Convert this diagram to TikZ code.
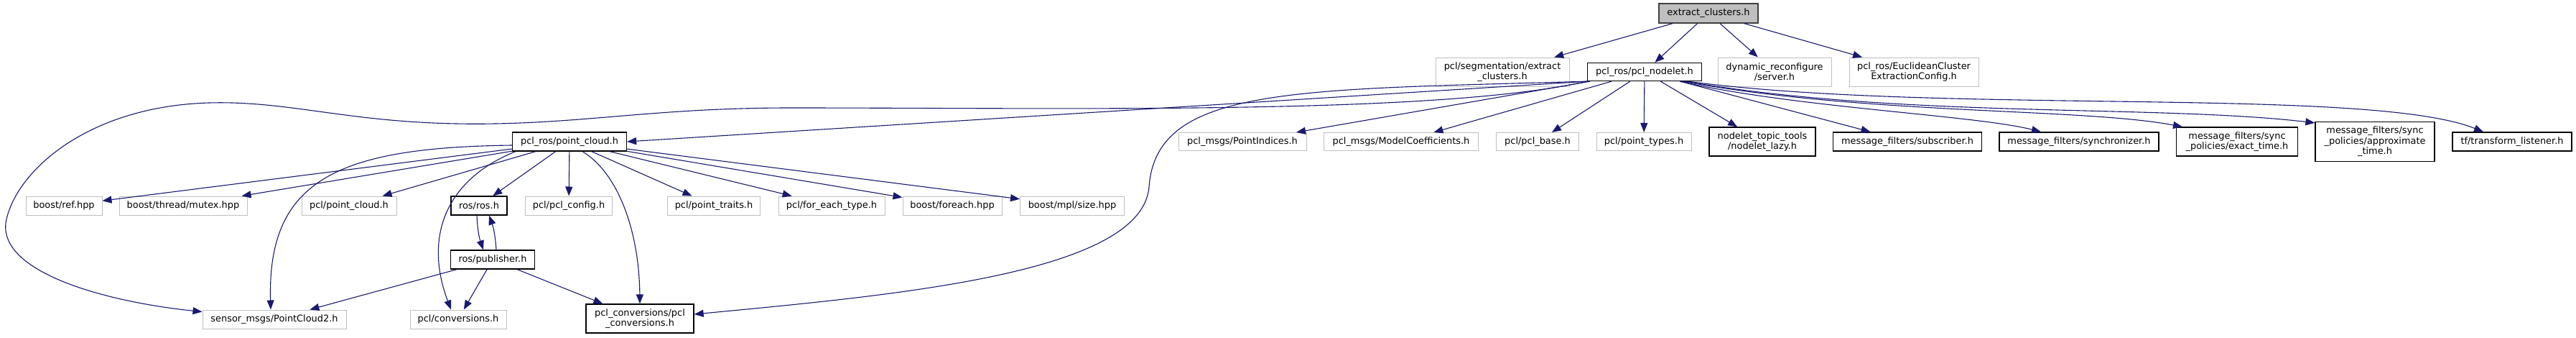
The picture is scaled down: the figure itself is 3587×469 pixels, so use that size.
\documentclass[tikz,border=0pt]{standalone}
\usepackage{fontspec}
\setmainfont{DejaVu Sans}
\usetikzlibrary{arrows.meta}
\definecolor{edgeblue}{HTML}{191970}
\definecolor{grey75}{HTML}{BFBFBF}
\begin{document}
\begin{tikzpicture}[
x=1pt, y=-1pt, % one unit = one pixel of the graph, y down
inc/.style={draw=black, line width=1.3pt, fill=white, inner sep=2pt, align=center,
  font=\fontsize{12.9}{14.5}\selectfont},
ext/.style={inc, draw=grey75, line width=1pt},
root/.style={inc, fill=grey75, draw=black!75},
dep/.style={draw=edgeblue, line width=1.1pt, -{Triangle[length=13pt,width=10pt]}}
]
\useasboundingbox (0,0) rectangle (3587,469);

% --- Header being documented ---
\node[root, minimum width=138pt, minimum height=27pt] (ec) at (2379,18.5) {extract\_clusters.h};

% --- Direct includes ---
\node[ext, minimum width=186pt, minimum height=40pt] (seg) at (2092,100) {pcl/segmentation/extract\\\_clusters.h};
\node[inc, minimum width=159pt, minimum height=25pt] (nodelet) at (2290,100) {pcl\_ros/pcl\_nodelet.h};
\node[ext, minimum width=158pt, minimum height=40pt] (dynrec) at (2471,100) {dynamic\_reconfigure\\/server.h};
\node[ext, minimum width=180pt, minimum height=40pt] (euclid) at (2665,100) {pcl\_ros/EuclideanCluster\\ExtractionConfig.h};

% --- Included by pcl_nodelet.h ---
\node[inc, minimum width=159pt, minimum height=26pt] (pcd) at (793,197) {pcl\_ros/point\_cloud.h};
\node[ext, minimum width=178pt, minimum height=25pt] (pind) at (1730,197) {pcl\_msgs/PointIndices.h};
\node[ext, minimum width=215pt, minimum height=25pt] (mcoef) at (1951,197) {pcl\_msgs/ModelCoefficients.h};
\node[ext, minimum width=115pt, minimum height=25pt] (pbase) at (2141,197) {pcl/pcl\_base.h};
\node[ext, minimum width=132pt, minimum height=25pt] (ptypes) at (2289,197) {pcl/point\_types.h};
\node[inc, minimum width=148pt, minimum height=40pt] (lazy) at (2454,197) {nodelet\_topic\_tools\\/nodelet\_lazy.h};
\node[inc, minimum width=207pt, minimum height=26pt] (msub) at (2656,197) {message\_filters/subscriber.h};
\node[inc, minimum width=222pt, minimum height=26pt] (msync) at (2895,197) {message\_filters/synchronizer.h};
\node[inc, minimum width=169pt, minimum height=40pt] (exact) at (3115,197) {message\_filters/sync\\\_policies/exact\_time.h};
\node[inc, minimum width=166pt, minimum height=55pt] (approx) at (3307,197) {message\_filters/sync\\\_policies/approximate\\\_time.h};
\node[inc, minimum width=166pt, minimum height=26pt] (tflis) at (3498,197) {tf/transform\_listener.h};

% --- Included by point_cloud.h ---
\node[ext, minimum width=106pt, minimum height=26pt] (bref) at (89,286) {boost/ref.hpp};
\node[ext, minimum width=178pt, minimum height=26pt] (mutex) at (255,286) {boost/thread/mutex.hpp};
\node[ext, minimum width=132pt, minimum height=26pt] (pclpc) at (486,286) {pcl/point\_cloud.h};
\node[inc, minimum width=78pt, minimum height=26pt] (rosh) at (667,286) {ros/ros.h};
\node[ext, minimum width=121pt, minimum height=26pt] (pconf) at (792,286) {pcl/pcl\_config.h};
\node[ext, minimum width=129pt, minimum height=26pt] (ptraits) at (994,286) {pcl/point\_traits.h};
\node[ext, minimum width=148pt, minimum height=26pt] (feacht) at (1158,286) {pcl/for\_each\_type.h};
\node[ext, minimum width=138pt, minimum height=26pt] (bforeach) at (1326,286) {boost/foreach.hpp};
\node[ext, minimum width=145pt, minimum height=26pt] (mplsize) at (1493,286) {boost/mpl/size.hpp};

\node[inc, minimum width=117pt, minimum height=26pt] (pub) at (686,361) {ros/publisher.h};

\node[ext, minimum width=200pt, minimum height=26pt] (pc2) at (382,444) {sensor\_msgs/PointCloud2.h};
\node[ext, minimum width=134pt, minimum height=26pt] (conv) at (638,444) {pcl/conversions.h};
\node[inc, minimum width=150pt, minimum height=40pt] (pclconv) at (891,443) {pcl\_conversions/pcl\\\_conversions.h};

% --- Edges from the header ---
\draw[dep] (ec) -- (seg);
\draw[dep] (ec) -- (nodelet);
\draw[dep] (ec) -- (dynrec);
\draw[dep] (ec) -- (euclid);

% --- Edges from pcl_nodelet.h ---
\draw[dep] (nodelet.south west) -- (pcd.east);
\draw[dep] (nodelet.south west) .. controls (2000,160) and (1500,150) .. (1100,150)
  .. controls (900,150) and (800,175) .. (635,172)
  .. controls (480,169) and (400,140) .. (291,143)
  .. controls (120,148) and (20,240) .. (8,310)
  .. controls (0,380) and (150,420) .. ([yshift=-3pt]pc2.north west);
\draw[dep] (nodelet.south west) .. controls (1800,125) and (1610,120) .. (1600,260)
  .. controls (1590,380) and (1250,410) .. ([yshift=6pt]pclconv.east);
\draw[dep] (nodelet) -- (pind);
\draw[dep] (nodelet) -- (mcoef);
\draw[dep] (nodelet) -- (pbase);
\draw[dep] (nodelet) -- (ptypes);
\draw[dep] (nodelet) -- (lazy);
\draw[dep] (nodelet) -- (msub);
\draw[dep] ([xshift=-31pt]nodelet.south east) .. controls (2500,150) and (2750,160) .. ([xshift=-53pt]msync.north);
\draw[dep] ([xshift=-27pt]nodelet.south east) .. controls (2600,160) and (2900,150) .. ([xshift=-76pt]exact.north);
\draw[dep] ([xshift=-24pt]nodelet.south east) .. controls (2650,165) and (3000,145) .. ([yshift=-2pt]approx.north west);
\draw[dep] ([xshift=-20pt]nodelet.south east) .. controls (2700,160) and (3300,120) .. ([xshift=-40pt]tflis.north);

% --- Edges from point_cloud.h ---
\draw[dep] (pcd) -- (bref);
\draw[dep] (pcd) -- (mutex);
\draw[dep] (pcd) -- (pclpc);
\draw[dep] (pcd) -- (rosh);
\draw[dep] (pcd) -- (pconf);
\draw[dep] (pcd) -- (ptraits);
\draw[dep] (pcd) -- (feacht);
\draw[dep] (pcd) -- (bforeach);
\draw[dep] (pcd) -- (mplsize);
\draw[dep] ([yshift=-5pt]pcd.west) .. controls (470,205) and (372,250) .. ([xshift=-5pt]pc2.north);
\draw[dep] ([xshift=5pt]pcd.south west) .. controls (620,250) and (590,330) .. ([xshift=-10pt]conv.north);
\draw[dep] ([xshift=18pt]pcd.south) .. controls (860,240) and (890,320) .. (pclconv.north);

% --- ros.h and publisher.h ---
\draw[dep] ([xshift=-3pt]rosh.south) to[bend right=8] ([xshift=-13pt]pub.north);
\draw[dep] ([xshift=5pt]pub.north) to[bend right=8] ([xshift=14pt]rosh.south);
\draw[dep] (pub) -- (pc2);
\draw[dep] (pub) -- (conv);
\draw[dep] (pub) -- (pclconv);

\end{tikzpicture}
\end{document}
